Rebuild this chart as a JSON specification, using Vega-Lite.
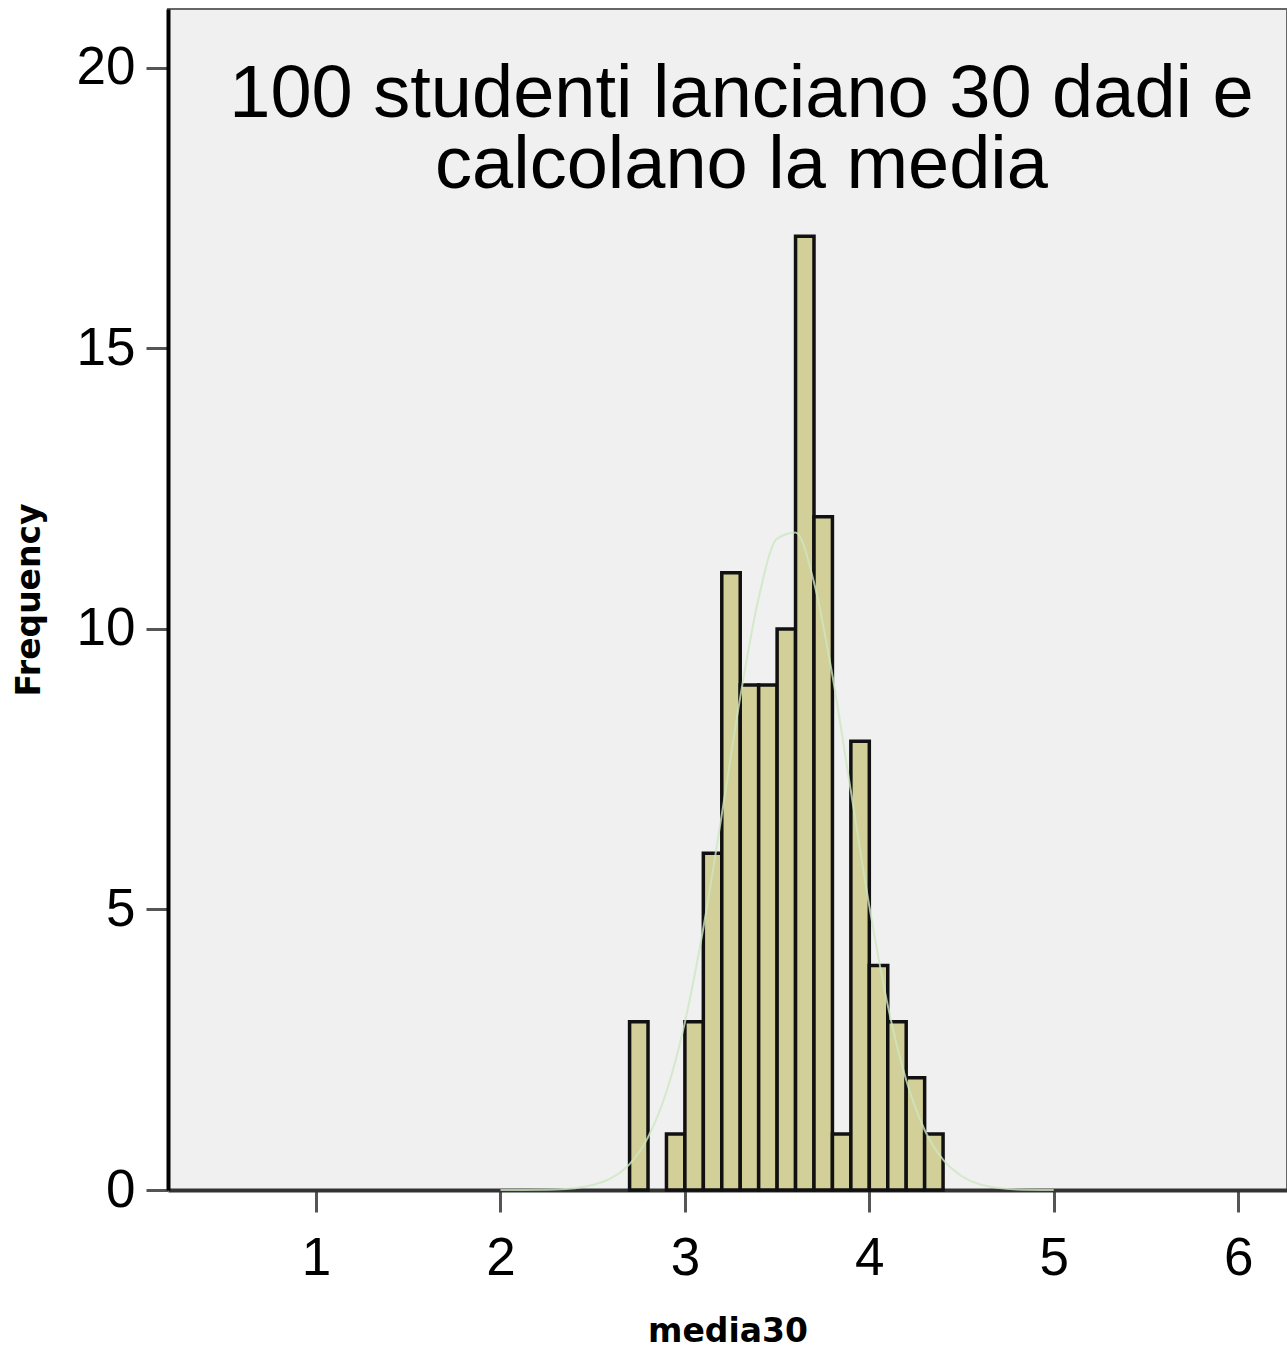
{
  "$schema": "https://vega.github.io/schema/vega-lite/v6.json",
  "width": 1119,
  "height": 1181,
  "autosize": {"type": "none"},
  "padding": {"left": 168, "top": 9, "right": 0, "bottom": 165},
  "background": "white",
  "config": {
    "view": {"fill": "#f0f0f0", "stroke": "#666666", "strokeWidth": 2},
    "font": "Liberation Sans"
  },
  "title": {
    "text": ["100 studenti lanciano 30 dadi e", "calcolano la media"],
    "fontSize": 74,
    "font": "Liberation Sans",
    "fontWeight": "normal",
    "color": "black",
    "lineHeight": 71,
    "anchor": "middle",
    "baseline": "top",
    "offset": -195,
    "dx": 14
  },
  "datasets": {
    "bins": [
      {"lo": 2.7, "hi": 2.8, "count": 3},
      {"lo": 2.9, "hi": 3.0, "count": 1},
      {"lo": 3.0, "hi": 3.1, "count": 3},
      {"lo": 3.1, "hi": 3.2, "count": 6},
      {"lo": 3.2, "hi": 3.3, "count": 11},
      {"lo": 3.3, "hi": 3.4, "count": 9},
      {"lo": 3.4, "hi": 3.5, "count": 9},
      {"lo": 3.5, "hi": 3.6, "count": 10},
      {"lo": 3.6, "hi": 3.7, "count": 17},
      {"lo": 3.7, "hi": 3.8, "count": 12},
      {"lo": 3.8, "hi": 3.9, "count": 1},
      {"lo": 3.9, "hi": 4.0, "count": 8},
      {"lo": 4.0, "hi": 4.1, "count": 4},
      {"lo": 4.1, "hi": 4.2, "count": 3},
      {"lo": 4.2, "hi": 4.3, "count": 2},
      {"lo": 4.3, "hi": 4.4, "count": 1}
    ],
    "curve": [
      {"x": 2.0, "y": 0.0},
      {"x": 2.3, "y": 0.01},
      {"x": 2.5, "y": 0.09},
      {"x": 2.6, "y": 0.21},
      {"x": 2.7, "y": 0.46},
      {"x": 2.8, "y": 0.94},
      {"x": 2.9, "y": 1.75},
      {"x": 3.0, "y": 2.99},
      {"x": 3.1, "y": 4.67},
      {"x": 3.2, "y": 6.69},
      {"x": 3.3, "y": 8.78},
      {"x": 3.4, "y": 10.55},
      {"x": 3.5, "y": 11.61},
      {"x": 3.6, "y": 11.72},
      {"x": 3.7, "y": 10.83},
      {"x": 3.8, "y": 9.17},
      {"x": 3.9, "y": 7.11},
      {"x": 4.0, "y": 5.06},
      {"x": 4.1, "y": 3.29},
      {"x": 4.2, "y": 1.96},
      {"x": 4.3, "y": 1.07},
      {"x": 4.4, "y": 0.54},
      {"x": 4.5, "y": 0.25},
      {"x": 4.6, "y": 0.10},
      {"x": 4.8, "y": 0.01},
      {"x": 5.0, "y": 0.0}
    ]
  },
  "layer": [
    {
      "data": {"name": "bins"},
      "mark": {"type": "rect", "fill": "#d3cf98", "stroke": "#111111", "strokeWidth": 3.5},
      "encoding": {
        "x": {
          "field": "lo", "type": "quantitative",
          "scale": {"domain": [0.197, 6.265], "nice": false, "zero": false},
          "axis": {
            "values": [1, 2, 3, 4, 5, 6],
            "format": "d",
            "title": "media30",
            "titleFont": "DejaVu Sans",
            "titleFontSize": 33,
            "titleFontWeight": "bold",
            "titleColor": "black",
            "titlePadding": 30,
            "labelFont": "Liberation Sans",
            "labelFontSize": 53,
            "labelColor": "black",
            "labelPadding": 20,
            "tickSize": 22,
            "tickWidth": 3,
            "tickColor": "#555555",
            "domainColor": "#333333",
            "domainWidth": 4,
            "grid": false
          }
        },
        "x2": {"field": "hi"},
        "y": {
          "field": "count", "type": "quantitative",
          "scale": {"domain": [0, 21.05], "nice": false},
          "axis": {
            "values": [0, 5, 10, 15, 20],
            "format": "d",
            "title": "Frequency",
            "titleFont": "DejaVu Sans",
            "titleFontSize": 33,
            "titleFontWeight": "bold",
            "titleColor": "black",
            "titlePadding": 30,
            "labelFont": "Liberation Sans",
            "labelFontSize": 53,
            "labelColor": "black",
            "labelPadding": 11,
            "tickSize": 22,
            "tickWidth": 3,
            "tickColor": "#555555",
            "domainColor": "#000000",
            "domainWidth": 4,
            "grid": false
          }
        },
        "y2": {"datum": 0}
      }
    },
    {
      "data": {"name": "curve"},
      "mark": {"type": "line", "stroke": "#cde6c0", "strokeWidth": 2, "opacity": 0.8, "interpolate": "monotone"},
      "encoding": {
        "x": {"field": "x", "type": "quantitative"},
        "y": {"field": "y", "type": "quantitative"}
      }
    }
  ]
}
